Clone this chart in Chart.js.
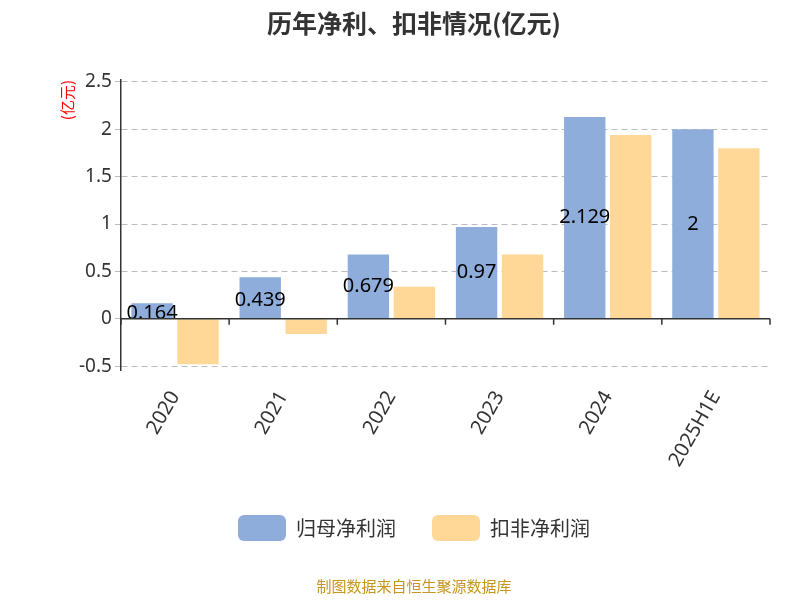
<!DOCTYPE html>
<html>
<head>
<meta charset="utf-8">
<script src="https://cdn.jsdelivr.net/npm/chart.js@4"></script>
<style>
  html, body { margin: 0; padding: 0; background: #fff; }
  #wrap { width: 800px; height: 600px; }
</style>
</head>
<body>
<div id="wrap"><canvas id="c"></canvas></div>
<script>
  var years = ['2020', '2021', '2022', '2023', '2024', '2025H1E'];
  var netProfit = [0.164, 0.439, 0.679, 0.97, 2.129, 2];
  var deductedProfit = [-0.48, -0.16, 0.34, 0.68, 1.94, 1.80];
  var yTicks = [-0.5, 0, 0.5, 1, 1.5, 2, 2.5];

  // labels in the middle of the first series' bars
  var barLabels = {
    id: 'barLabels',
    afterDatasetsDraw: function (chart) {
      var ctx = chart.ctx;
      var meta = chart.getDatasetMeta(0);
      ctx.save();
      ctx.font = '20px "Noto Sans", sans-serif';
      ctx.fillStyle = '#000';
      ctx.textAlign = 'center';
      ctx.textBaseline = 'middle';
      meta.data.forEach(function (bar, i) {
        var v = netProfit[i];
        ctx.fillText(String(v), bar.x, (bar.y + bar.base) / 2 + (v < 0.5 ? 2 : 0));
      });
      ctx.restore();
    }
  };

  // x axis line drawn at zero, with ticks between categories
  var zeroAxis = {
    id: 'zeroAxis',
    afterDatasetsDraw: function (chart) {
      var ctx = chart.ctx, x = chart.scales.x, y0 = chart.scales.y.getPixelForValue(0);
      var step = (x.right - x.left) / years.length;
      ctx.save();
      ctx.strokeStyle = '#333';
      ctx.lineWidth = 1.5;
      ctx.beginPath();
      ctx.moveTo(x.left, y0); ctx.lineTo(x.right, y0);
      for (var i = 0; i <= years.length; i++) {
        var px = x.left + step * i;
        ctx.moveTo(px, y0); ctx.lineTo(px, y0 + 6);
      }
      ctx.stroke();
      ctx.restore();
    }
  };

  new Chart(document.getElementById('c'), {
    type: 'bar',
    data: {
      labels: years,
      datasets: [
        { label: '归母净利润', data: netProfit, backgroundColor: '#8EADDB' },
        { label: '扣非净利润', data: deductedProfit, backgroundColor: '#FFD897' }
      ]
    },
    options: {
      responsive: true,
      maintainAspectRatio: false,
      animation: false,
      layout: { padding: { left: 58, right: 30, top: 8, bottom: 5 } },
      datasets: { bar: { categoryPercentage: 0.85, barPercentage: 0.9 } },
      plugins: {
        title: {
          display: true,
          text: '历年净利、扣非情况(亿元)',
          font: { size: 25, weight: 'bold', family: '"Noto Sans CJK SC", sans-serif' },
          color: '#333',
          padding: { top: 0, bottom: 42 }
        },
        subtitle: {
          display: true,
          position: 'bottom',
          text: '制图数据来自恒生聚源数据库',
          color: '#C8961E',
          font: { size: 15, family: '"Noto Sans CJK SC", sans-serif' },
          padding: { top: 26, bottom: 0 }
        },
        legend: {
          position: 'bottom',
          labels: {
            boxWidth: 48, boxHeight: 26, useBorderRadius: true, borderRadius: 6,
            padding: 36, color: '#333',
            font: { size: 20, family: '"Noto Sans CJK SC", sans-serif' }
          }
        },
        tooltip: { enabled: false }
      },
      scales: {
        x: {
          grid: { display: false },
          border: { display: false },
          ticks: {
            color: '#333', maxRotation: 60, minRotation: 60, padding: 8,
            font: { size: 20, family: '"Noto Sans", sans-serif' }
          }
        },
        y: {
          min: -0.55, max: 2.52,
          afterBuildTicks: function (s) { s.ticks = yTicks.map(function (v) { return { value: v }; }); },
          ticks: {
            color: '#333',
            font: { size: 19, family: '"Noto Sans", sans-serif' },
            callback: function (v) { return String(v); }
          },
          grid: { color: '#bbb', drawTicks: true, tickLength: 6 },
          border: { display: true, color: '#333', width: 1.5, dash: [6, 4] },
          title: {
            display: true, text: '(亿元)', align: 'end', color: 'red', padding: 0,
            font: { size: 15, family: '"Noto Sans CJK SC", sans-serif' }
          }
        }
      }
    },
    plugins: [barLabels, zeroAxis]
  });
</script>
</body>
</html>
